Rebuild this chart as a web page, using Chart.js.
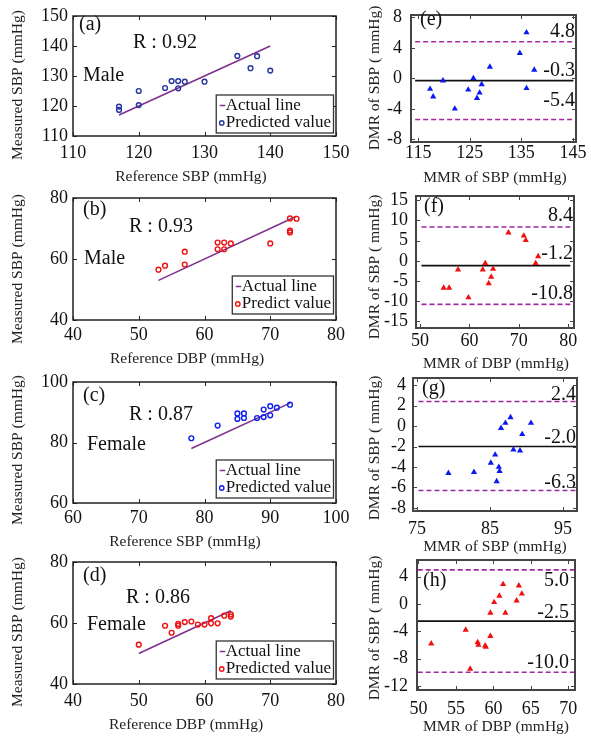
<!DOCTYPE html>
<html>
<head>
<meta charset="utf-8">
<script src="https://cdn.jsdelivr.net/npm/chart.js@4.4.0/dist/chart.umd.min.js"></script>
<style>
  html, body { margin: 0; padding: 0; background: #fff; }
  #wrap { position: relative; width: 591px; height: 736px; overflow: hidden; }
  canvas { position: absolute; }
</style>
</head>
<body>
<div id="wrap"></div>
<script>
// ---- values ----
// (a) male, SBP
const aRef  = [117, 117, 120, 120, 124, 125, 126, 126, 127, 130, 135, 137, 138, 140];
const aMeas = [119.8, 118.7, 125.0, 120.3, 126.0, 128.3, 128.3, 125.9, 128.1, 128.1, 136.7, 132.6, 136.6, 131.8];
const aFit  = [117, 140];
// (b) male, DBP
const bRef  = [53, 54, 57, 57, 62, 62, 63, 63, 64, 70, 73, 73, 73, 74];
const bMeas = [56.5, 57.8, 62.4, 58.2, 65.4, 63.2, 65.4, 63.2, 65.1, 65.1, 73.3, 69.3, 68.7, 73.2];
const bFit  = [53, 74];
// (c) female, SBP
const cRef  = [78, 82, 85, 85, 86, 86, 88, 89, 89, 90, 90, 91, 93];
const cMeas = [81.4, 85.6, 89.6, 87.8, 89.6, 88.1, 88.1, 88.4, 90.9, 92.0, 89.0, 91.5, 92.5];
const cFit  = [78, 93];
// (d) female, DBP
const dRef  = [50, 54, 55, 56, 56, 57, 58, 59, 60, 61, 61, 62, 63, 64, 64];
const dMeas = [52.9, 59.1, 56.8, 59.1, 59.7, 60.3, 60.5, 59.5, 59.5, 59.9, 61.6, 59.9, 62.4, 62.8, 62.1];
const dFit  = [50, 64];

// Bland-Altman: mean (MMR) vs difference (DMR), limits = [upper, mean, lower]
const eMean = [117.3, 117.9, 119.8, 122.1, 124.7, 125.7, 126.4, 126.9, 127.3, 128.9, 134.7, 136.0, 136.0, 137.5];
const eDiff = [-1.4, -2.4, -0.3, -4.0, -1.5, 0.0, -2.6, -1.9, -0.8, 1.5, 3.3, 6.0, -1.3, 1.1];
const eLimits = [4.8, -0.3, -5.4];
const eSpan = [114.4, 145.1];

const fMean = [54.8, 55.9, 57.7, 59.8, 62.7, 63.2, 63.9, 64.4, 64.8, 67.9, 71.0, 71.4, 73.4, 73.9];
const fDiff = [-6.7, -6.7, -2.2, -9.1, -2.2, -0.6, -5.6, -4.0, -2.0, 7.0, 6.2, 5.1, -0.6, 1.1];
const fLimits = [8.4, -1.2, -10.8];
const fSpan = [50.3, 80.4];

const gMean = [79.3, 82.8, 85.1, 85.7, 85.9, 86.2, 86.3, 86.5, 87.1, 87.8, 88.2, 89.1, 89.4, 90.6];
const gDiff = [-4.6, -4.5, -3.6, -2.8, -5.4, -4.0, -4.4, -0.2, 0.3, 0.85, -2.3, -2.4, -0.8, 0.3];
const gLimits = [2.4, -2.0, -6.3];
const gSpan = [75.2, 96.8];

const hMean = [51.7, 56.3, 56.9, 57.9, 58.0, 58.9, 59.0, 59.6, 59.6, 60.1, 60.8, 61.3, 61.6, 63.1, 63.4, 63.8];
const hDiff = [-5.8, -3.8, -9.5, -5.6, -6.0, -6.1, -6.3, -4.7, -1.3, 0.25, 1.2, 2.9, -1.3, 0.5, 2.7, 1.5];
const hLimits = [5.0, -2.5, -10.0];
const hSpan = [49.9, 70.8];

// tick values
const aTicks  = [110, 120, 130, 140, 150];
const bxTicks = [40, 50, 60, 70, 80];
const byTicks = [40, 60, 80];
const cxTicks = [60, 70, 80, 90, 100];
const cyTicks = [60, 80, 100];
const exTicks = [115, 125, 135, 145];
const eyTicks = [-8, -4, 0, 4, 8];
const fxTicks = [50, 60, 70, 80];
const fyTicks = [-15, -10, -5, 0, 5, 10, 15];
const gxTicks = [75, 85, 95];
const gyTicks = [-8, -6, -4, -2, 0, 2, 4];
const hxTicks = [50, 55, 60, 65, 70];
const hyTicks = [-12, -8, -4, 0, 4];

const FONT = '"Liberation Serif", "Times New Roman", serif';
const PURPLE = '#7e2f8e';
const MAGENTA = '#a0299f';

function makeCanvas(b) {
  const c = document.createElement('canvas');
  c.width = b.w; c.height = b.h;
  c.style.left = b.x + 'px'; c.style.top = b.y + 'px';
  c.style.width = b.w + 'px'; c.style.height = b.h + 'px';
  document.getElementById('wrap').appendChild(c);
  return c;
}

function axis(min, max, ticks, pad, size, isX) {
  return {
    type: 'linear', min, max,
    grid: { display: false, drawTicks: false },
    border: { display: false },
    ticks: { padding: pad, color: '#111', font: { family: FONT, size: 18, lineHeight: 1 } },
    afterBuildTicks: s => { s.ticks = ticks.map(v => ({ value: v })); },
    afterFit: s => {
      if (isX) s.height = size; else s.width = size;
      s.paddingLeft = s.paddingRight = s.paddingTop = s.paddingBottom = 0;
    }
  };
}

// frame, inward ticks, texts, titles, legend, limit labels
const framePlugin = {
  id: 'frame',
  afterDatasetsDraw(chart, args, o) {
    const { ctx, chartArea: a, scales: { x, y } } = chart;
    const ox = o.box.x, oy = o.box.y;
    ctx.save();
    ctx.strokeStyle = o.frameColor;
    ctx.lineWidth = 1;
    ctx.beginPath();
    for (const t of x.ticks) {
      const px = Math.round(x.getPixelForValue(t.value)) + 0.5;
      ctx.moveTo(px, a.bottom); ctx.lineTo(px, a.bottom - 4);
      ctx.moveTo(px, a.top); ctx.lineTo(px, a.top + 4);
    }
    for (const t of y.ticks) {
      const py = Math.round(y.getPixelForValue(t.value)) + 0.5;
      ctx.moveTo(a.left, py); ctx.lineTo(a.left + 4, py);
      ctx.moveTo(a.right, py); ctx.lineTo(a.right - 4, py);
    }
    ctx.stroke();
    ctx.lineWidth = o.frameWidth;
    ctx.strokeRect(a.left, a.top, a.right - a.left, a.bottom - a.top);

    // limit labels (Bland-Altman)
    if (o.limits) {
      ctx.fillStyle = '#111';
      ctx.font = '20px ' + FONT;
      ctx.textAlign = 'right';
      ctx.textBaseline = 'middle';
      o.limits.forEach((v, i) => {
        ctx.fillText(v.toFixed(1), a.right - o.limitRight, y.getPixelForValue(v) - o.limitOffsets[i]);
      });
    }

    // free texts
    ctx.fillStyle = '#111';
    ctx.textAlign = 'left';
    ctx.textBaseline = 'middle';
    for (const t of o.texts) {
      ctx.font = '20px ' + FONT;
      ctx.fillText(t[0], t[1] - ox, t[2] - oy);
    }

    // axis titles
    ctx.fillStyle = '#222';
    ctx.font = '15.5px ' + FONT;
    ctx.textAlign = 'center';
    ctx.fillText(o.xTitle[0], o.xTitle[1] - ox, o.xTitle[2] - oy);
    ctx.save();
    ctx.translate(o.yTitle[1] - ox, o.yTitle[2] - oy);
    ctx.rotate(-Math.PI / 2);
    ctx.fillText(o.yTitle[0], 0, 0);
    ctx.restore();

    // legend
    if (o.legend) {
      const lg = o.legend;
      ctx.font = '17px ' + FONT;
      const w = 9.5 + Math.max(...lg.labels.map(s => ctx.measureText(s).width)) + 2.5;
      const h = 38;
      const r = a.right - 2.5, b = a.bottom - lg.bottom;
      const l = r - w, t = b - h;
      ctx.fillStyle = '#fff';
      ctx.fillRect(l, t, w, h);
      ctx.strokeStyle = '#333';
      ctx.lineWidth = 1.3;
      ctx.strokeRect(l, t, w, h);
      const y1 = t + 10.5, y2 = t + 28;
      ctx.strokeStyle = PURPLE;
      ctx.lineWidth = 1.5;
      ctx.beginPath(); ctx.moveTo(l + 3.5, y1); ctx.lineTo(l + 9, y1); ctx.stroke();
      ctx.strokeStyle = lg.color;
      ctx.lineWidth = 1.4;
      ctx.beginPath(); ctx.arc(l + 5.5, y2, 2.2, 0, Math.PI * 2); ctx.stroke();
      ctx.fillStyle = '#111';
      ctx.textAlign = 'left';
      ctx.fillText(lg.labels[0], l + 9.5, y1);
      ctx.fillText(lg.labels[1], l + 9.5, y2);
    }
    ctx.restore();
  }
};

function baseOptions(p, extra) {
  const ar = p.area, b = p.box;
  return {
    responsive: false, animation: false, events: [],
    layout: { padding: { top: ar.t - b.y, right: (b.x + b.w) - ar.r, left: 0, bottom: 0 } },
    plugins: {
      legend: { display: false }, tooltip: { enabled: false },
      frame: Object.assign({ box: b, texts: p.texts, xTitle: p.xTitle, yTitle: p.yTitle }, extra)
    },
    scales: {
      x: axis(p.xRange[0], p.xRange[1], p.xTicks, p.xPad, (b.y + b.h) - ar.b, true),
      y: axis(p.yRange[0], p.yRange[1], p.yTicks, p.yPad, ar.l - b.x, false)
    }
  };
}

function scatterPanel(p) {
  new Chart(makeCanvas(p.box), {
    type: 'scatter',
    data: {
      datasets: [
        { data: p.xs.map((v, i) => ({ x: v, y: p.ys[i] })), pointStyle: 'circle', pointRadius: 2.4,
          pointBorderWidth: 1.4, borderColor: p.color, backgroundColor: 'rgba(255,255,255,0)' },
        { type: 'line', data: p.fit.map(v => ({ x: v, y: v })), borderColor: PURPLE, borderWidth: 1.5, pointRadius: 0 }
      ]
    },
    options: baseOptions(p, { frameColor: '#222', frameWidth: 1.5,
      legend: { labels: ['Actual line', p.legendLabel], color: p.color, bottom: p.legendBottom } }),
    plugins: [framePlugin]
  });
}

function baPanel(p) {
  const hline = (v, color, dash) => ({
    type: 'line', data: p.span.map(x => ({ x, y: v })), borderColor: color, borderWidth: 1.6,
    borderDash: dash, pointRadius: 0
  });
  new Chart(makeCanvas(p.box), {
    type: 'scatter',
    data: {
      datasets: [
        { data: p.xs.map((v, i) => ({ x: v, y: p.ys[i] })), pointStyle: 'triangle', pointRadius: 3.6,
          pointBorderWidth: 0, borderColor: p.color, backgroundColor: p.color },
        hline(p.limits[0], MAGENTA, [5, 3]),
        hline(p.limits[1], '#111', []),
        hline(p.limits[2], MAGENTA, [5, 3])
      ]
    },
    options: baseOptions(p, { frameColor: '#444', frameWidth: 2, limits: p.limits,
      limitOffsets: p.limitOffsets, limitRight: p.limitRight }),
    plugins: [framePlugin]
  });
}

const YT = 'Measured SBP (mmHg)';
const YB = 'DMR of SBP ( mmHg)';

scatterPanel({
  box: { x: 0, y: 0, w: 352, h: 196 }, area: { l: 73, t: 16, r: 336, b: 136 },
  xs: aRef, ys: aMeas, fit: aFit, color: '#26359f', legendLabel: 'Predicted value', legendBottom: 3,
  xRange: [110, 150], yRange: [110, 150], xTicks: aTicks, yTicks: aTicks, xPad: 8, yPad: 5,
  texts: [['(a)', 79, 25], ['R : 0.92', 133, 43], ['Male', 83, 76]],
  xTitle: ['Reference SBP (mmHg)', 191, 177], yTitle: [YT, 18, 85]
});
scatterPanel({
  box: { x: 0, y: 176, w: 352, h: 200 }, area: { l: 73, t: 198, r: 336, b: 320 },
  xs: bRef, ys: bMeas, fit: bFit, color: '#f01010', legendLabel: 'Predict value', legendBottom: 6,
  xRange: [40, 80], yRange: [40, 80], xTicks: bxTicks, yTicks: byTicks, xPad: 6, yPad: 5,
  texts: [['(b)', 83, 210], ['R : 0.93', 129, 227], ['Male', 84, 259]],
  xTitle: ['Reference DBP (mmHg)', 187, 359], yTitle: [YT, 18, 269]
});
scatterPanel({
  box: { x: 0, y: 356, w: 352, h: 200 }, area: { l: 73, t: 382, r: 336, b: 503 },
  xs: cRef, ys: cMeas, fit: cFit, color: '#1020f0', legendLabel: 'Predicted value', legendBottom: 5,
  xRange: [60, 100], yRange: [60, 100], xTicks: cxTicks, yTicks: cyTicks, xPad: 6, yPad: 5,
  texts: [['(c)', 83, 396], ['R : 0.87', 129, 415], ['Female', 87, 445]],
  xTitle: ['Reference SBP (mmHg)', 185, 542], yTitle: [YT, 18, 450]
});
scatterPanel({
  box: { x: 0, y: 536, w: 352, h: 200 }, area: { l: 73, t: 562, r: 336, b: 684 },
  xs: dRef, ys: dMeas, fit: dFit, color: '#f01010', legendLabel: 'Predicted value', legendBottom: 5,
  xRange: [40, 80], yRange: [40, 80], xTicks: bxTicks, yTicks: byTicks, xPad: 8, yPad: 5,
  texts: [['(d)', 83, 576], ['R : 0.86', 126, 598], ['Female', 87, 625]],
  xTitle: ['Reference DBP (mmHg)', 186, 725], yTitle: [YT, 18, 632]
});

baPanel({
  box: { x: 340, y: 0, w: 251, h: 196 }, area: { l: 411, t: 15, r: 576, b: 142 },
  xs: eMean, ys: eDiff, limits: eLimits, span: eSpan, color: '#0a1af0',
  limitOffsets: [9.5, 10, 19], limitRight: 1,
  xRange: [113.6, 145.6], yRange: [-8.35, 8.3], xTicks: exTicks, yTicks: eyTicks, xPad: 2, yPad: 9,
  texts: [['(e)', 420, 20]],
  xTitle: ['MMR of SBP (mmHg)', 495, 178], yTitle: [YB, 375, 78]
});
baPanel({
  box: { x: 340, y: 176, w: 251, h: 200 }, area: { l: 416, t: 196, r: 574, b: 328 },
  xs: fMean, ys: fDiff, limits: fLimits, span: fSpan, color: '#f01010',
  limitOffsets: [11, 12, 11], limitRight: 1,
  xRange: [49.2, 81.15], yRange: [-16.65, 16.07], xTicks: fxTicks, yTicks: fyTicks, xPad: 4, yPad: 8,
  texts: [['(f)', 424, 207]],
  xTitle: ['MMR of DBP (mmHg)', 496, 364], yTitle: [YB, 375, 267]
});
baPanel({
  box: { x: 340, y: 356, w: 251, h: 200 }, area: { l: 413, t: 378, r: 577, b: 511 },
  xs: gMean, ys: gDiff, limits: gLimits, span: gSpan, color: '#0a1af0',
  limitOffsets: [7, 9, 8], limitRight: 1,
  xRange: [74.45, 96.9], yRange: [-8.3, 4.7], xTicks: gxTicks, yTicks: gyTicks, xPad: 9, yPad: 7,
  texts: [['(g)', 422, 389]],
  xTitle: ['MMR of SBP (mmHg)', 495, 547], yTitle: [YB, 375, 448]
});
baPanel({
  box: { x: 340, y: 536, w: 251, h: 200 }, area: { l: 417, t: 560, r: 575, b: 690 },
  xs: hMean, ys: hDiff, limits: hLimits, span: hSpan, color: '#f01010',
  limitOffsets: [-11, 8, 10], limitRight: 6,
  xRange: [49.8, 70.9], yRange: [-12.6, 6.45], xTicks: hxTicks, yTicks: hyTicks, xPad: 10, yPad: 9,
  texts: [['(h)', 423, 581]],
  xTitle: ['MMR of DBP (mmHg)', 496, 727], yTitle: [YB, 375, 628]
});
</script>
</body>
</html>
